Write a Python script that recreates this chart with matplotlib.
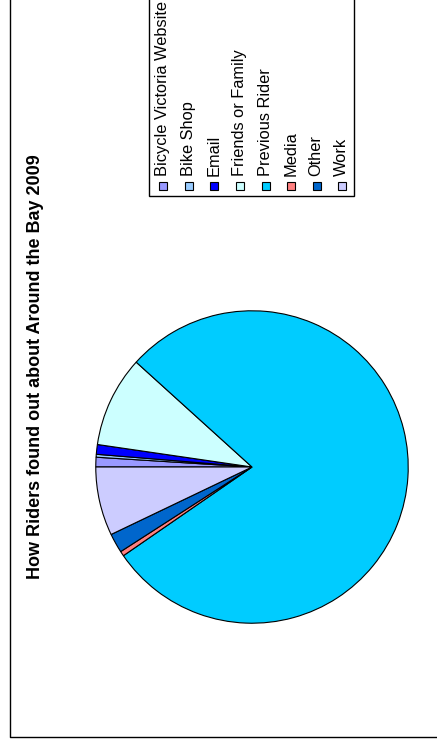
import matplotlib
matplotlib.use("Agg")
import matplotlib.pyplot as plt
from matplotlib.patches import Rectangle

categories = ["Bicycle Victoria Website", "Bike Shop", "Email", "Friends or Family",
              "Previous Rider", "Media", "Other", "Work"]
values = [1.0, 0.3, 1.0, 9.4, 78.6, 0.5, 2.0, 7.1]
colors = ["#9999FF", "#99CCFF", "#0000FF", "#CCFFFF", "#00CCFF", "#FF8080", "#0066CC", "#CCCCFF"]
title = "How Riders found out about Around the Bay 2009"

W, H = 437, 746
fig = plt.figure(figsize=(W / 100, H / 100), dpi=100)
fig.patch.set_facecolor("white")
font = ["Liberation Sans", "DejaVu Sans"]

# pie (chart is rotated 90 degrees counter-clockwise)
cx, cy, r = 252, 467, 157
ax = fig.add_axes([(cx - r) / W, (H - cy - r) / H, 2 * r / W, 2 * r / H])
ax.pie(values, colors=colors, startangle=180, counterclock=False,
       wedgeprops=dict(edgecolor="black", linewidth=0.8))
ax.set_xlim(-1.005, 1.005)
ax.set_ylim(-1.005, 1.005)
ax.set_aspect("equal")
ax.axis("off")

# overlay in pixel coordinates
ov2 = fig.add_axes([0, 0, 1, 1], zorder=5)
ov2.set_xlim(0, W)
ov2.set_ylim(H, 0)
ov2.axis("off")
ov2.patch.set_alpha(0)

# outer border
ov2.plot([9.5, 9.5, W + 5], [-5, 736.5, 736.5], color="black", lw=1.0)

# title
ov2.text(36, 366.5, title, rotation=90, ha="center", va="center",
         fontsize=13, fontweight="bold", family=font)

# legend frame
ov2.add_patch(Rectangle((148.5, -5), 205, 200.5, facecolor="white",
                        edgecolor="black", lw=1.0))
xs0, dx = 163.3, 25.57
for i, (cat, col) in enumerate(zip(categories, colors)):
    x = xs0 + i * dx
    ov2.add_patch(Rectangle((x - 4, 181.5), 8, 8, facecolor=col,
                            edgecolor="black", lw=0.8))
    ov2.text(x - 0.5, 176.5, cat, rotation=90, ha="center", va="bottom",
             fontsize=11.8, family=font)

fig.savefig("out.png", dpi=100, facecolor="white")
